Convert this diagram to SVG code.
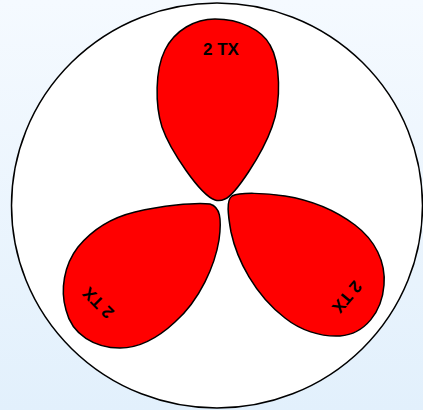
<svg xmlns="http://www.w3.org/2000/svg" width="423" height="410" viewBox="0 0 423 410">
<defs>
<linearGradient id="bg" x1="0" y1="0" x2="0" y2="1">
<stop offset="0" stop-color="#f5faff"/>
<stop offset="1" stop-color="#e2f0fc"/>
</linearGradient>
<style>
.lobe{fill:#ff0000;stroke:#000;stroke-width:1.5}
.lbl{font-family:"Liberation Sans",Arial,sans-serif;font-weight:bold;font-size:17px;fill:#000;text-anchor:middle}
</style>
</defs>
<rect width="423" height="410" fill="url(#bg)"/>
<ellipse id="outer" cx="217" cy="205.5" rx="205.5" ry="202.5" fill="#fff" stroke="#000" stroke-width="1.5"/>
<g id="lobe-top">
<path class="lobe" d="M215 200 C200 195 170 150 162 127 C155 105 155 70 165 50 C175 30 195 19 215 19 C240 19 262 30 270 45 C280 62 282 100 272 127 C262 155 235 195 225 199 C221 201 218 201 215 200 Z"/>
<text class="lbl" x="221" y="55">2 TX</text>
</g>
<g id="lobe-left">
<path class="lobe" d="M210 204 C220 207 222 218 219 240 C215 265 200 300 175 322 C160 336 140 348 120 348 C95 348 72 335 66 310 C60 290 64 265 78 247 C92 230 110 218 135 212 C160 206 195 202 210 204 Z"/>
<text class="lbl" transform="translate(98 303) rotate(225)" y="6">2 TX</text>
</g>
<g id="lobe-right">
<path class="lobe" d="M232 196 C226 200 228 215 231 232 C237 260 255 295 285 318 C300 330 320 337 340 336 C365 334 382 312 384 285 C386 262 375 240 355 225 C335 210 310 200 285 196 C265 193 240 192 232 196 Z"/>
<text class="lbl" transform="translate(347 297) rotate(130)" y="6">2 TX</text>
</g>
</svg>
